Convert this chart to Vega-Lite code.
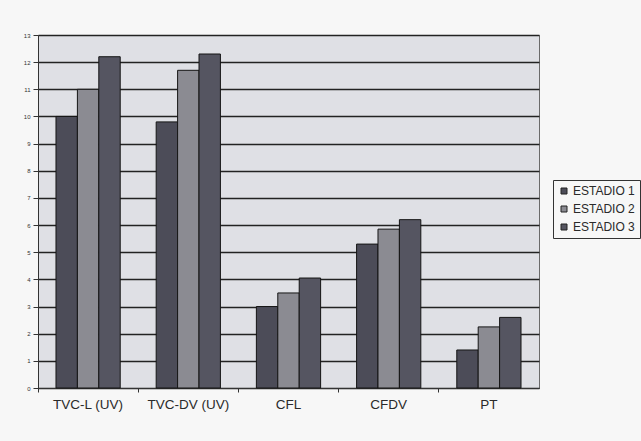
{
  "$schema": "https://vega.github.io/schema/vega-lite/v6.json",
  "width": 501,
  "height": 353,
  "autosize": {"type": "none"},
  "padding": {"left": 38, "top": 35, "right": 102, "bottom": 53},
  "background": "#f7f7f7",
  "config": {
    "font": "Liberation Sans",
    "view": {"fill": "#dfe0e5", "stroke": "#6a6a6a", "strokeWidth": 1}
  },
  "data": {
    "values": [
      {"categoria": "TVC-L (UV)", "serie": "ESTADIO 1", "valor": 10.0},
      {"categoria": "TVC-L (UV)", "serie": "ESTADIO 2", "valor": 11.0},
      {"categoria": "TVC-L (UV)", "serie": "ESTADIO 3", "valor": 12.2},
      {"categoria": "TVC-DV (UV)", "serie": "ESTADIO 1", "valor": 9.8},
      {"categoria": "TVC-DV (UV)", "serie": "ESTADIO 2", "valor": 11.7},
      {"categoria": "TVC-DV (UV)", "serie": "ESTADIO 3", "valor": 12.3},
      {"categoria": "CFL", "serie": "ESTADIO 1", "valor": 3.0},
      {"categoria": "CFL", "serie": "ESTADIO 2", "valor": 3.5},
      {"categoria": "CFL", "serie": "ESTADIO 3", "valor": 4.05},
      {"categoria": "CFDV", "serie": "ESTADIO 1", "valor": 5.3},
      {"categoria": "CFDV", "serie": "ESTADIO 2", "valor": 5.85},
      {"categoria": "CFDV", "serie": "ESTADIO 3", "valor": 6.2},
      {"categoria": "PT", "serie": "ESTADIO 1", "valor": 1.4},
      {"categoria": "PT", "serie": "ESTADIO 2", "valor": 2.25},
      {"categoria": "PT", "serie": "ESTADIO 3", "valor": 2.6}
    ]
  },
  "mark": {"type": "bar", "stroke": "#151515", "strokeWidth": 1},
  "encoding": {
    "x": {
      "field": "categoria",
      "type": "nominal",
      "sort": ["TVC-L (UV)", "TVC-DV (UV)", "CFL", "CFDV", "PT"],
      "scale": {"paddingInner": 0, "paddingOuter": 0},
      "axis": {
        "title": null,
        "labelAngle": 0,
        "labelFontSize": 13.5,
        "labelColor": "#2a2a2a",
        "labelPadding": 5,
        "bandPosition": 0,
        "tickSize": 4,
        "tickColor": "#333",
        "domainColor": "#333"
      }
    },
    "xOffset": {
      "field": "serie",
      "type": "nominal",
      "scale": {"paddingInner": 0, "paddingOuter": 0.84}
    },
    "y": {
      "field": "valor",
      "type": "quantitative",
      "scale": {"domain": [0, 13], "nice": false},
      "axis": {
        "title": null,
        "values": [0, 1, 2, 3, 4, 5, 6, 7, 8, 9, 10, 11, 12, 13],
        "labelFontSize": 6,
        "labelColor": "#333",
        "labelPadding": 3,
        "tickSize": 5,
        "tickColor": "#333",
        "domainColor": "#333",
        "gridColor": "#222",
        "gridWidth": 1.4,
        "gridOpacity": 1
      }
    },
    "color": {
      "field": "serie",
      "type": "nominal",
      "scale": {
        "domain": ["ESTADIO 1", "ESTADIO 2", "ESTADIO 3"],
        "range": ["#4c4c58", "#8b8b92", "#555561"]
      },
      "legend": {
        "title": null,
        "orient": "none",
        "legendX": 515,
        "legendY": 145,
        "strokeColor": "#333",
        "fillColor": "#f7f7f7",
        "padding": 5,
        "symbolType": "square",
        "symbolSize": 36,
        "symbolStrokeColor": "#222",
        "symbolStrokeWidth": 1,
        "labelFontSize": 12,
        "labelColor": "#2a2a2a",
        "labelOffset": 3,
        "rowPadding": 6
      }
    }
  }
}
